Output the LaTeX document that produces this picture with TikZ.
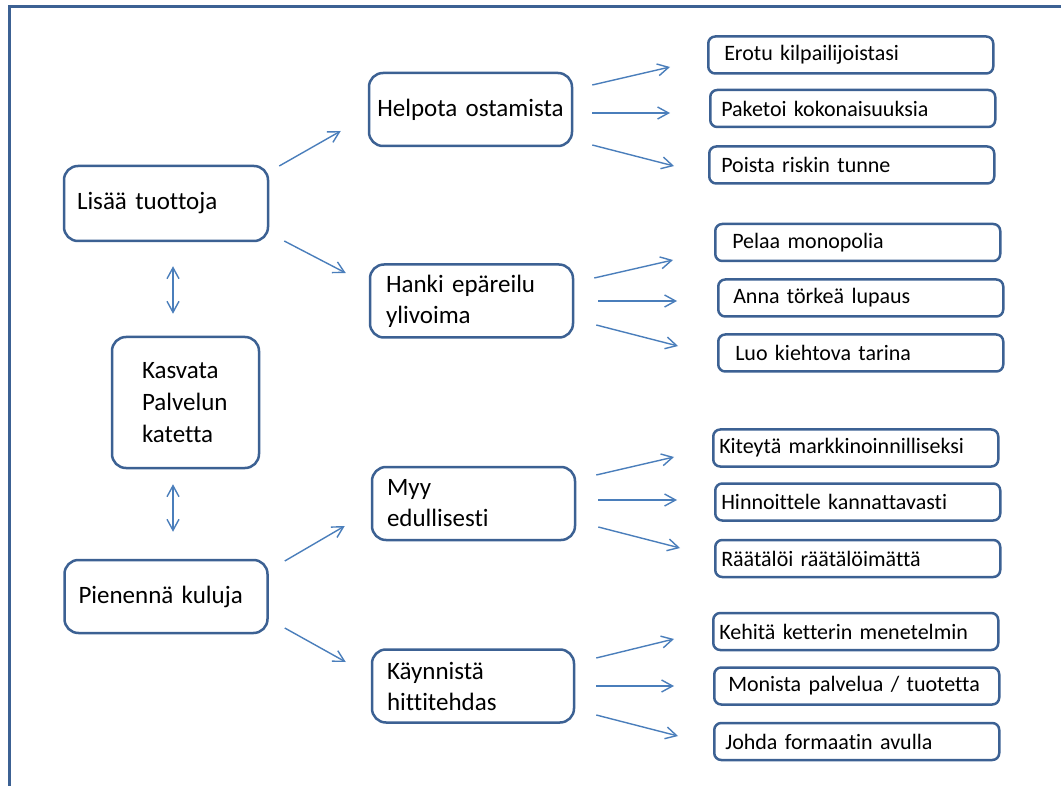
\documentclass[tikz,border=0pt]{standalone}
\usepackage{fontspec}
\setmainfont{Carlito}[Ligatures=CommonOff]
\usetikzlibrary{arrows.meta}
\definecolor{boxblue}{HTML}{3C6193}
\definecolor{arrowblue}{HTML}{4A7EBB}
\def\leaflist{707/55/16/ero/Erotu kilpailijoistasi, 709/108.5/11/pak/Paketoi kokonaisuuksia,
  708/165/12/poi/Poista riskin tunne, 714/242.5/17/pel/Pelaa monopolia,
  717/298/15/ann/Anna törkeä lupaus, 717/353/17/luo/Luo kiehtova tarina,
  712/448/6/kit/Kiteytä markkinoinnilliseksi, 714/502/6/hin/Hinnoittele kannattavasti,
  714/558.5/6/raa/Räätälöi räätälöimättä, 712/631.5/6/keh/Kehitä ketterin menetelmin,
  713/686/14/mon/{Monista palvelua / tuotetta}, 713/741.5/11/joh/Johda formaatin avulla}
\def\fanlist{hel/ero/19/-24.5/-37/12, hel/pak/19/3.5/-39/4.5, hel/poi/19/35.5/-34/1,
  han/pel/20/-23/-41/17.5, han/ann/24/0/-40/3, han/luo/22/24/-39/-7,
  myy/kit/20/-28.5/-38/9, myy/hin/22/-3.5/-37/-2, myy/raa/22/23.5/-34/-10.5,
  kay/keh/21/-28/-38/7.5, kay/mon/21/0/-39/0, kay/joh/21/29/-35/-5.5,
  lt/hel/10/-37.5/-27/21.5, lt/han/15/37.5/-23/-28,
  pk/myy/16/-35.5/-26/22.5, pk/kay/16/31.5/-25/-24}
\tikzstyle{bigbox}=[draw=boxblue,line width=2.5pt,rounded corners=14pt,minimum height=73pt,inner ysep=0pt,align=left,font=\fontsize{25}{31}\selectfont]
\tikzstyle{leaf}=[draw=boxblue,line width=2.5pt,rounded corners=7pt,minimum height=37pt,inner ysep=0pt,align=left,font=\fontsize{22}{26}\selectfont]
\tikzstyle{arr}=[draw=arrowblue,line width=1.4pt,-{Straight Barb[length=11pt,width=12pt]}]
\tikzstyle{twoway}=[draw=arrowblue,line width=1.4pt,{Straight Barb[length=11pt,width=12pt]}-{Straight Barb[length=11pt,width=12pt]}]
\tikzstyle{frame}=[draw=boxblue,line width=3pt]

\begin{document}
\begin{tikzpicture}[x=1pt,y=-1pt]
  \useasboundingbox (0,0) rectangle (1061,786);
  \path[frame] (9.5,786) -- (9.5,6.5) -- (1061,6.5);

  % Left column
  \node[bigbox,minimum height=75pt,text width=178pt,inner xsep=13pt] (lt) at (166,203.5) {Lisää tuottoja};
  \node[bigbox,minimum height=131pt,text width=87pt,inner xsep=30pt,font=\fontsize{25}{32}\selectfont] (kpk) at (185.5,402.5) {Kasvata\\Palvelun\\katetta};
  \node[bigbox,text width=175pt,inner xsep=14pt] (pk) at (166,596.5) {Pienennä kuluja};

  % Middle column
  \node[bigbox,text width=191pt,inner xsep=6pt,align=center] (hel) at (470.5,109.5) {Helpota ostamista};
  \node[bigbox,text width=171pt,inner xsep=16pt] (han) at (471.5,301) {Hanki epäreilu\\ylivoima};
  \node[bigbox,text width=173pt,inner xsep=15pt] (myy) at (473.5,503.5) {Myy\\edullisesti};
  \node[bigbox,text width=172pt,inner xsep=15pt] (kay) at (473,686) {Käynnistä\\hittitehdas};

  % Right column
  \foreach \lx/\ly/\inset/\name/\txt in \leaflist {
    \pgfmathsetmacro\tw{285-2*\inset}
    \node[leaf,anchor=west,inner xsep=\inset pt,text width=\tw pt] (\name) at (\lx,\ly) {\txt};
  }

  % Arrows between the columns
  \foreach \src/\dst/\ax/\ay/\bx/\by in \fanlist
    \path[arr] ([shift={(\ax,\ay)}]\src.east) -- ([shift={(\bx,\by)}]\dst.west);

  \path[twoway] ([shift={(7,24)}]lt.south) -- ([shift={(-12.5,-22)}]kpk.north);
  \path[twoway] ([shift={(-12.5,15)}]kpk.south) -- ([shift={(7,-27)}]pk.north);
\end{tikzpicture}
\end{document}
